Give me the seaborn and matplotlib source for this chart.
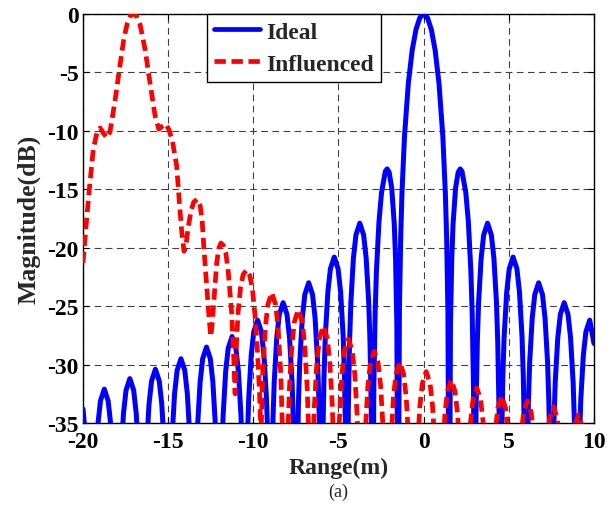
import matplotlib
matplotlib.use("Agg")
import matplotlib.pyplot as plt
import seaborn as sns
import pandas as pd

# ---------------- data ----------------
ideal_x = [
    -20.0, -19.875, -19.725, -19.65,
    -19.5, -19.425, -19.35, -19.275, -19.125, -18.975, -18.75, -18.525, -18.375, -18.225, -18.15, -18.075,
    -18.0, -17.925, -17.85, -17.775, -17.625, -17.475, -17.25, -17.025, -16.875, -16.725, -16.65, -16.575,
    -16.5, -16.425, -16.35, -16.275, -16.125, -15.975, -15.75, -15.525, -15.375, -15.225, -15.15, -15.075,
    -15.0, -14.925, -14.85, -14.775, -14.625, -14.475, -14.25, -14.025, -13.875, -13.725, -13.65, -13.575,
    -13.5, -13.425, -13.35, -13.275, -13.125, -12.975, -12.75, -12.525, -12.375, -12.225, -12.15, -12.075,
    -12.0, -11.925, -11.85, -11.775, -11.625, -11.475, -11.25, -11.025, -10.875, -10.725, -10.65, -10.575,
    -10.5, -10.425, -10.35, -10.275, -10.125, -9.975, -9.75, -9.525, -9.375, -9.225, -9.15, -9.075,
    -9.0, -8.925, -8.85, -8.775, -8.625, -8.475, -8.25, -8.025, -7.875, -7.725, -7.65, -7.575,
    -7.5, -7.425, -7.35, -7.275, -7.125, -6.975, -6.75, -6.525, -6.375, -6.225, -6.15, -6.075,
    -6.0, -5.925, -5.85, -5.775, -5.625, -5.475, -5.25, -5.025, -4.875, -4.725, -4.65, -4.575,
    -4.5, -4.425, -4.35, -4.275, -4.125, -3.975, -3.75, -3.525, -3.375, -3.225, -3.15, -3.075,
    -3.0, -2.925, -2.85, -2.775, -2.625, -2.475, -2.25, -2.145, -2.025, -1.875, -1.725, -1.65, -1.575,
    -1.5, -1.425, -1.35, -1.275, -1.125, -0.9, -0.675, -0.45, -0.225, 0.0,
    0.225, 0.45, 0.675, 0.9, 1.125, 1.275, 1.35, 1.425,
    1.5, 1.575, 1.65, 1.725, 1.875, 2.025, 2.145, 2.25, 2.475, 2.625, 2.775, 2.85, 2.925,
    3.0, 3.075, 3.15, 3.225, 3.375, 3.525, 3.75, 3.975, 4.125, 4.275, 4.35, 4.425,
    4.5, 4.575, 4.65, 4.725, 4.875, 5.025, 5.25, 5.475, 5.625, 5.775, 5.85, 5.925,
    6.0, 6.075, 6.15, 6.225, 6.375, 6.525, 6.75, 6.975, 7.125, 7.275, 7.35, 7.425,
    7.5, 7.575, 7.65, 7.725, 7.875, 8.025, 8.25, 8.475, 8.625, 8.775, 8.85, 8.925,
    9.0, 9.075, 9.15, 9.225, 9.375, 9.525, 9.75, 10.0,
]
ideal_y = [
    -33.8, -35.8, -39.6, -43.0,
    -50, -48.2, -42.3, -38.9, -35.1, -33.1, -32.1, -33.1, -35.1, -38.9, -42.3, -48.2,
    -50, -47.3, -41.4, -38.0, -34.2, -32.2, -31.2, -32.2, -34.2, -38.0, -41.4, -47.3,
    -50, -46.5, -40.6, -37.2, -33.4, -31.4, -30.4, -31.4, -33.4, -37.2, -40.6, -46.5,
    -50, -45.6, -39.7, -36.3, -32.5, -30.5, -29.5, -30.5, -32.5, -36.3, -39.7, -45.6,
    -50, -44.6, -38.7, -35.3, -31.5, -29.5, -28.5, -29.5, -31.5, -35.3, -38.7, -44.6,
    -50, -43.7, -37.8, -34.4, -30.6, -28.6, -27.6, -28.6, -30.6, -34.4, -37.8, -43.7,
    -50, -42.3, -36.4, -33.0, -29.2, -27.2, -26.2, -27.2, -29.2, -33.0, -36.4, -42.3,
    -50, -40.8, -34.9, -31.5, -27.7, -25.7, -24.7, -25.7, -27.7, -31.5, -34.9, -40.8,
    -50, -39.1, -33.2, -29.8, -26.0, -24.0, -23.0, -24.0, -26.0, -29.8, -33.2, -39.1,
    -50, -36.9, -31.0, -27.6, -23.8, -21.8, -20.8, -21.8, -23.8, -27.6, -31.0, -36.9,
    -50, -34.0, -28.1, -24.7, -20.9, -18.9, -17.9, -18.9, -20.9, -24.7, -28.1, -34.0,
    -50, -31.9, -25.7, -22.1, -17.8, -15.3, -13.46, -13.26, -13.55, -14.89, -18.0, -20.97, -26.5,
    -50, -25.6, -19.2, -15.39, -10.45, -5.94, -3.11, -1.33, -0.32, 0.0,
    -0.32, -1.33, -3.11, -5.94, -10.45, -15.39, -19.2, -25.6,
    -50, -26.5, -20.97, -18.0, -14.89, -13.55, -13.26, -13.46, -15.3, -17.8, -22.1, -25.7, -31.9,
    -50, -34.0, -28.1, -24.7, -20.9, -18.9, -17.9, -18.9, -20.9, -24.7, -28.1, -34.0,
    -50, -36.9, -31.0, -27.6, -23.8, -21.8, -20.8, -21.8, -23.8, -27.6, -31.0, -36.9,
    -50, -39.1, -33.2, -29.8, -26.0, -24.0, -23.0, -24.0, -26.0, -29.8, -33.2, -39.1,
    -50, -40.8, -34.9, -31.5, -27.7, -25.7, -24.7, -25.7, -27.7, -31.5, -34.9, -40.8,
    -50, -42.3, -36.4, -33.0, -29.2, -27.2, -26.2, -28.2,
]

influenced_x = [
    -20.0, -19.82, -19.63, -19.4, -19.16, -19.0, -18.8, -18.6, -18.42, -18.25,
    -18.1, -17.83, -17.6, -17.4, -17.2, -17.0, -16.85, -16.65, -16.36, -16.07,
    -15.77, -15.55, -15.35, -15.15, -14.95, -14.75, -14.5, -14.35, -14.2, -14.07,
    -13.95, -13.82, -13.65, -13.5, -13.3, -13.12, -13.0, -12.9, -12.74, -12.6,
    -12.5, -12.42, -12.31, -12.15, -12.02, -11.9, -11.76, -11.62, -11.47, -11.27,
    -11.15, -11.07, -11.0, -10.9, -10.75, -10.6, -10.4, -10.2, -10.05, -9.9, -9.75, -9.62, -9.55,
    -9.445, -9.295, -9.145, -8.92, -8.695, -8.545, -8.395, -8.32, -8.14,
    -7.96, -7.885, -7.735, -7.585, -7.36, -7.135, -6.985, -6.835, -6.76, -6.62,
    -6.49, -6.415, -6.265, -6.115, -5.89, -5.665, -5.515, -5.365, -5.29, -5.15,
    -5.02, -4.945, -4.795, -4.645, -4.42, -4.195, -4.045, -3.895, -3.82, -3.66,
    -3.5, -3.425, -3.275, -3.125, -2.9, -2.675, -2.525, -2.375, -2.3, -2.15,
    -2.0, -1.925, -1.775, -1.625, -1.4, -1.175, -1.025, -0.875, -0.8, -0.62,
    -0.45, -0.375, -0.225, -0.075, 0.15, 0.375, 0.525, 0.675, 0.75, 0.88,
    1.02, 1.095, 1.245, 1.395, 1.62, 1.845, 1.995, 2.145, 2.22, 2.37,
    2.52, 2.595, 2.745, 2.895, 3.12, 3.345, 3.495, 3.645, 3.72, 3.85,
    3.98, 4.055, 4.205, 4.355, 4.58, 4.805, 4.955, 5.105, 5.18, 5.33,
    5.49, 5.565, 5.715, 5.865, 6.09, 6.315, 6.465, 6.615, 6.69, 6.85,
    7.02, 7.095, 7.245, 7.395, 7.62, 7.845, 7.995, 8.145, 8.22, 8.35,
    8.48, 8.555, 8.705, 8.855, 9.08, 9.305, 9.455, 9.605, 9.68, 9.8, 10.0,
]
influenced_y = [
    -21.3, -18.1, -15.0, -11.6, -10.0, -9.75, -10.2, -10.6, -10.1, -8.6,
    -7.2, -4.4, -2.1, -0.8, -0.1, 0.0, -0.2, -0.9, -3.0, -5.85,
    -8.7, -9.85, -9.6, -9.4, -9.9, -10.9, -13.0, -16.0, -18.7, -20.3,
    -19.7, -18.2, -16.8, -16.1, -15.85, -16.4, -17.8, -20.1, -23.3, -26.0,
    -27.6, -26.6, -24.4, -21.3, -20.0, -19.6, -19.8, -20.4, -22.1, -25.6,
    -29.5, -32.5, -28.5, -25.6, -23.4, -22.3, -21.9, -22.4, -23.6, -25.8, -29.0, -33.0, -36.0,
    -30.65, -26.85, -24.85, -23.85, -24.85, -26.85, -30.65, -34.05, -45,
    -35.5, -32.1, -28.3, -26.3, -25.3, -26.3, -28.3, -32.1, -35.5, -45,
    -36.9, -33.5, -29.7, -27.7, -26.7, -27.7, -29.7, -33.5, -36.9, -45,
    -38.0, -34.6, -30.8, -28.8, -27.8, -28.8, -30.8, -34.6, -38.0, -45,
    -39.05, -35.65, -31.85, -29.85, -28.85, -29.85, -31.85, -35.65, -39.05, -45,
    -40.0, -36.6, -32.8, -30.8, -29.8, -30.8, -32.8, -36.6, -40.0, -45,
    -40.8, -37.4, -33.6, -31.6, -30.6, -31.6, -33.6, -37.4, -40.8, -45,
    -41.5, -38.1, -34.3, -32.3, -31.3, -32.3, -34.3, -38.1, -41.5, -45,
    -42.2, -38.8, -35.0, -33.0, -32.0, -33.0, -35.0, -38.8, -42.2, -45,
    -42.9, -39.5, -35.7, -33.7, -32.7, -33.7, -35.7, -39.5, -42.9, -45,
    -43.3, -39.9, -36.1, -34.1, -33.1, -34.1, -36.1, -39.9, -43.3, -45,
    -43.8, -40.4, -36.6, -34.6, -33.6, -34.6, -36.6, -40.4, -43.8, -45,
    -44.5, -41.1, -37.3, -35.3, -34.3, -35.3, -37.3, -41.1, -44.5, -45, -45,
]

x_ticks = [-20, -15, -10, -5, 0, 5, 10]
y_ticks = [0, -5, -10, -15, -20, -25, -30, -35]
x_label = "Range(m)"
y_label = "Magnitude(dB)"
caption = "(a)"
series_names = ["Ideal", "Influenced"]

# ---------------- styling ----------------
sns.set_style("white")
plt.rcParams["font.family"] = ["Liberation Serif", "DejaVu Serif"]
plt.rcParams["axes.unicode_minus"] = False

fig = plt.figure(figsize=(6.14, 5.10), dpi=100)
ax = fig.add_axes([0.1352, 0.1686, 0.8322, 0.8020])

df_ideal = pd.DataFrame({"x": ideal_x, "y": ideal_y})
df_inf = pd.DataFrame({"x": influenced_x, "y": influenced_y})

sns.lineplot(data=df_ideal, x="x", y="y", ax=ax, color="#0000ff", lw=3.6,
             sort=False, estimator=None, label=series_names[0], zorder=3)
sns.lineplot(data=df_inf, x="x", y="y", ax=ax, color="#ff0000", lw=3.4,
             sort=False, estimator=None, label=series_names[1], zorder=4)
ax.lines[1].set_dashes([2.4, 1.2])

ax.set_xlim(-20, 10)
ax.set_ylim(-35, 0)
ax.set_xticks(x_ticks)
ax.set_yticks(y_ticks)
ax.set_xticklabels([str(t) for t in x_ticks])
ax.set_yticklabels([str(t) for t in y_ticks])

fs = 17
ax.tick_params(axis="both", which="both", direction="in", length=4, width=0.8,
               top=True, right=True, bottom=True, left=True,
               labelsize=fs, colors="black")
ax.tick_params(axis="x", pad=6)
ax.tick_params(axis="y", pad=3)
for lab in ax.get_xticklabels() + ax.get_yticklabels():
    lab.set_fontweight("bold")

ax.grid(True, color="0.25", linestyle=(0, (6, 4)), linewidth=0.8)
ax.set_axisbelow(True)
for sp in ax.spines.values():
    sp.set_color("black")
    sp.set_linewidth(1.0)
    sp.set_visible(True)

ax.set_xlabel(x_label, fontsize=fs, fontweight="bold", labelpad=3)
ax.set_ylabel(y_label, fontsize=18.5, fontweight="bold", labelpad=5)

leg = ax.legend(loc="upper left", bbox_to_anchor=(0.2427, 1.0), borderaxespad=0,
                frameon=True, fancybox=False, framealpha=1, edgecolor="black",
                prop={"weight": "bold", "size": fs}, handlelength=1.95,
                handletextpad=0.25, labelspacing=0.45, borderpad=0.3)
leg.get_frame().set_linewidth(1.0)
for h in leg.get_lines():
    h.set_linewidth(3.4)

fig.text(0.551, 0.035, caption, ha="center", va="center", fontsize=13)

fig.savefig("out.png", dpi=100)
